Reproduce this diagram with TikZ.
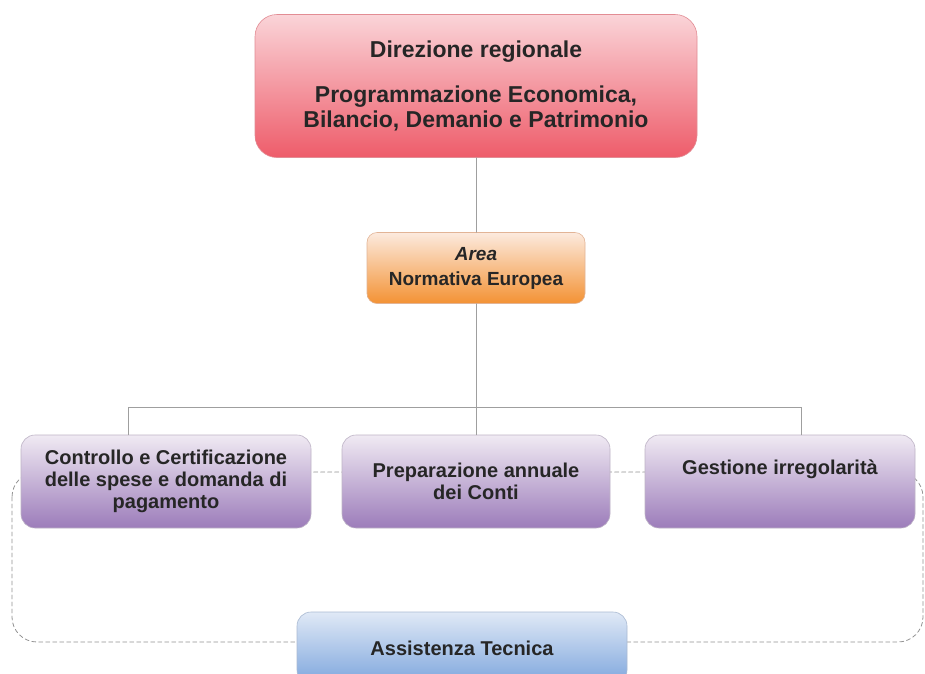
\documentclass[tikz,border=0pt]{standalone}
\usepackage{fontspec}
\setmainfont{Liberation Sans}
\usepackage{tikz}
\usepackage{xcolor}
\definecolor{dirtop}{RGB}{250,212,216}
\definecolor{dirbot}{RGB}{238,92,106}
\definecolor{diredge}{RGB}{226,140,148}
\definecolor{areatop}{RGB}{252,234,222}
\definecolor{areabot}{RGB}{243,146,52}
\definecolor{areaedge}{RGB}{226,180,150}
\definecolor{ufftop}{RGB}{240,234,243}
\definecolor{uffbot}{RGB}{156,124,186}
\definecolor{uffedge}{RGB}{190,180,198}
\definecolor{attop}{RGB}{224,233,246}
\definecolor{atbot}{RGB}{126,166,221}
\definecolor{atedge}{RGB}{170,186,210}

\tikzset{
  box/.style={draw=#1edge,line width=0.6pt,top color=#1top,bottom color=#1bot,
    rounded corners=14pt,inner sep=0pt,align=center,text=black!85,
    font=\bfseries\fontsize{20}{22}\selectfont},
  link/.style={draw=gray!75,line width=0.8pt},
  loop/.style={draw=gray!85,line width=0.8pt,dash pattern=on 4pt off 3pt,rounded corners=25pt}
}

\begin{document}
\begin{tikzpicture}[x=1pt,y=-1pt,line cap=round]
\clip (0,0) rectangle (925,673);
\fill[white] (0,0) rectangle (925,673);
% dashed frame behind the offices
\coordinate (loopnw) at (12,472);
\coordinate (loopse) at (923,642);
\draw[loop] (loopnw) rectangle (loopse);
% boxes
\node[box=dir,minimum width=442pt,minimum height=143pt,rounded corners=22pt,
  font=\bfseries\fontsize{23}{25}\selectfont] (dir) at (476,86)
  {Direzione regionale\\[20pt]Programmazione Economica,\\Bilancio, Demanio e Patrimonio};
\node[box=area,minimum width=218pt,minimum height=71pt,rounded corners=10pt,
  font=\bfseries\fontsize{19}{25}\selectfont] (area) at (476,268)
  {\textit{Area}\\Normativa Europea};
\node[box=uff,minimum width=290pt,minimum height=93pt] (ctrl) at (166,481.5)
  {Controllo e Certificazione\\delle spese e domanda di\\pagamento};
\node[box=uff,minimum width=268pt,minimum height=93pt] (conti) at (476,481.5)
  {Preparazione annuale\\dei Conti};
\node[box=uff,minimum width=270pt,minimum height=93pt] (irr) at (780,481.5)
  {Gestione irregolarità\\\strut};
\node[box=at,minimum width=330pt,minimum height=72pt] (at) at (462,648)
  {Assistenza Tecnica};
% tree
\draw[link] (dir) -- (area);
\draw[link] (area.south) -- ++(0,104) coordinate (bus);
\draw[link] ([xshift=-38pt]ctrl.north) |- (bus) -| ([xshift=21pt]irr.north);
\draw[link] (bus) -- (conti.north);
\end{tikzpicture}
\end{document}
